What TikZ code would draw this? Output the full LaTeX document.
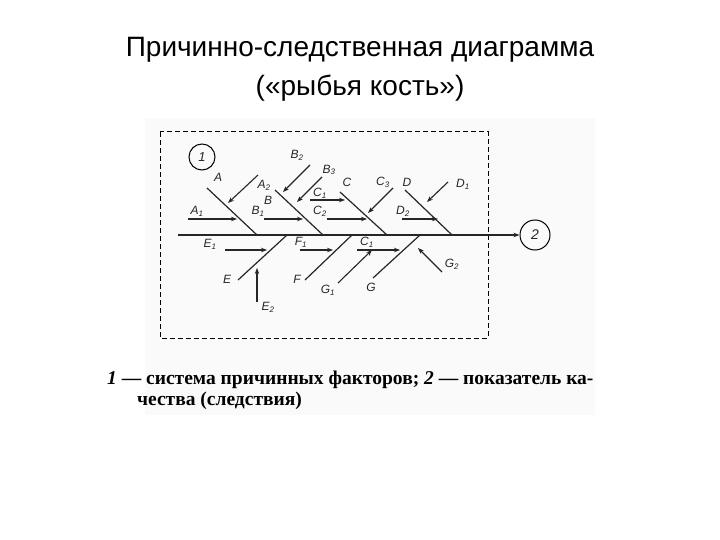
\documentclass[tikz,border=0pt]{standalone}
\usepackage{fontspec}
\setmainfont{Liberation Sans}
\newfontfamily\capfont{Liberation Serif}
\usetikzlibrary{arrows.meta}
\begin{document}
\begin{tikzpicture}[x=1pt,y=-1pt,
  bone/.style={line width=1.2pt,draw=black!85},
  arr/.style={line width=1.1pt,draw=black!85,-{Stealth[length=6pt,width=4.5pt]}},
  lab/.style={font=\fontsize{12}{12}\selectfont\itshape,inner sep=0pt,text=black!85},
  ttl/.style={font=\fontsize{28}{30}\selectfont,inner sep=0pt}]
\useasboundingbox (0,0) rectangle (720,540);
\fill[black!2] (145,118) rectangle (595,415);
\node[ttl] (t1) at (360,50) {Причинно-следственная диаграмма};
\node[ttl] (t2) at (360,88) {(«рыбья кость»)};
\draw[dashed,line width=1pt,dash pattern=on 5pt off 3pt] (160,132) rectangle (488,338);
\node[draw,circle,minimum size=26pt,inner sep=0pt,line width=1pt,lab,font=\fontsize{13}{13}\selectfont\itshape] (c1) at (202,157) {1};
\node[draw,circle,minimum size=30pt,inner sep=0pt,line width=1pt,lab,font=\fontsize{14}{14}\selectfont\itshape] (c2) at (535,235) {2};
\coordinate (s0) at (178,235);
\draw[arr] (s0) -- (c2);
\foreach \n/\a/\b/\c/\d in {A/207/188/257/235, B/275/190/323/235, C/340/192/387/235, D/405/190/452/235,
  E/238/280/287/235, F/305/280/352/235, G/373/278/420/235}{
  \coordinate (\n s) at (\a,\b); \coordinate (\n e) at (\c,\d);
  \draw[bone] (\n s) -- (\n e);}
\foreach \n/\a/\b/\c/\d in {aA2/258/175/228/203, aA1/188/219/237/219, aB2/310/165/283/192, aB3/322/177/297/202,
  aB1/264/219/303/219, aC1/310/200/345/200, aC2/327/219/367/219, aC3/393/188/368/213,
  aD1/448/182/427/202, aD2/402/219/438/219, aE1/225/250/267/250, aE2/257/302/257/268,
  aF1/300/250/333/250, aG3/357/250/400/250, aG1/338/283/372/250, aG2/442/272/418/248}{
  \coordinate (\n s) at (\a,\b); \coordinate (\n e) at (\c,\d);
  \draw[arr] (\n s) -- (\n e);}
\node[lab] (lA) at (218,177) {A};
\node[lab] (lA2) at (264,185) {A\textsubscript{2}};
\node[lab] (lA1) at (197,211) {A\textsubscript{1}};
\node[lab] (lB) at (268,200) {B};
\node[lab] (lB2) at (297,155) {B\textsubscript{2}};
\node[lab] (lB3) at (329,170) {B\textsubscript{3}};
\node[lab] (lB1) at (258,211) {B\textsubscript{1}};
\node[lab] (lC) at (347,182) {C};
\node[lab] (lC1) at (320,193) {C\textsubscript{1}};
\node[lab] (lC2) at (320,211) {C\textsubscript{2}};
\node[lab] (lC3) at (383,182) {C\textsubscript{3}};
\node[lab] (lD) at (407,182) {D};
\node[lab] (lD1) at (463,184) {D\textsubscript{1}};
\node[lab] (lD2) at (403,211) {D\textsubscript{2}};
\node[lab] (lE) at (227,279) {E};
\node[lab] (lE1) at (210,244) {E\textsubscript{1}};
\node[lab] (lE2) at (268,307) {E\textsubscript{2}};
\node[lab] (lF) at (297,279) {F};
\node[lab] (lF1) at (301,242) {F\textsubscript{1}};
\node[lab] (lG3) at (367,242) {C\textsubscript{1}};
\node[lab] (lG) at (371,287) {G};
\node[lab] (lG1) at (328,290) {G\textsubscript{1}};
\node[lab] (lG2) at (452,264) {G\textsubscript{2}};
\node[font=\capfont\fontsize{19.5}{22}\selectfont\bfseries,inner sep=0pt,anchor=west] (cap1) at (107,380) {\textit{1} — система причинных факторов; \textit{2} — показатель ка-};
\node[font=\capfont\fontsize{19.5}{22}\selectfont\bfseries,inner sep=0pt,anchor=west] (cap2) at (137,401) {чества (следствия)};
\end{tikzpicture}
\end{document}
